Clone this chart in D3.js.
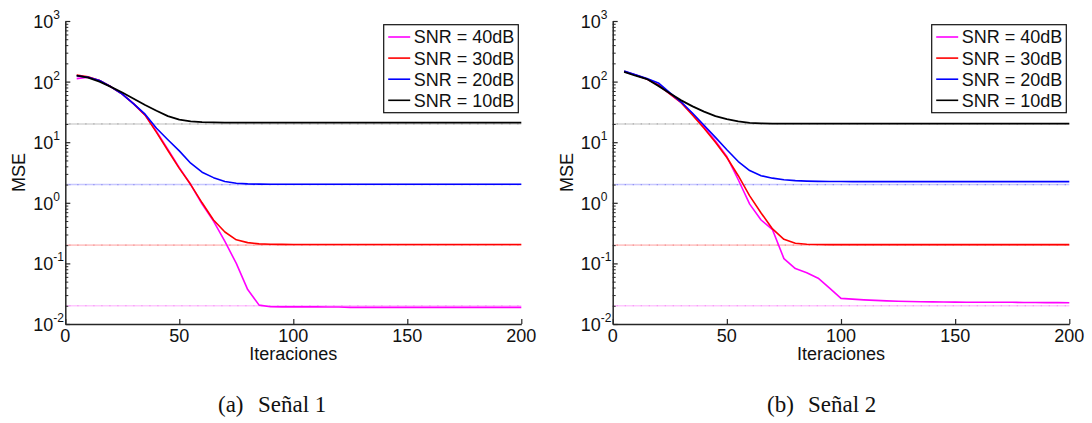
<!DOCTYPE html>
<html>
<head>
<meta charset="utf-8">
<script src="https://cdn.jsdelivr.net/npm/d3@7"></script>
<style>
  html, body { margin: 0; padding: 0; background: #fff; }
  svg { display: block; }
</style>
</head>
<body>
<svg id="chart" width="1092" height="423"></svg>
<script>
// ---------------- DATA ----------------
const iterations = [5,10,15,20,25,30,35,40,45,50,55,60,65,70,75,80,85,90,95,100,
                    105,110,115,120,125,130,135,140,145,150,155,160,165,170,175,180,185,190,195,200];

const seriesNames = ["SNR = 40dB", "SNR = 30dB", "SNR = 20dB", "SNR = 10dB"];
const referenceLevels = [0.02, 0.2, 2, 20];   // faint reference lines (per series)

const xTicks = [0, 50, 100, 150, 200];
const yTickExponents = [-2, -1, 0, 1, 2, 3];
const xLabel = "Iteraciones";
const yLabel = "MSE";
const panelLetters = ["(a)", "(b)"];
const panelTitles = ["Señal 1", "Señal 2"];

// Señal 1
const s1_snr40 = [112,118,104,82,62,43,28,15,7.6,3.8,2.0,0.95,0.5,0.23,0.1,0.037,0.0205,0.0193,0.0192,0.0192,
                  0.0192,0.0192,0.0191,0.0191,0.0188,0.0188,0.0188,0.0188,0.0188,0.0188,0.0188,0.0188,0.0188,0.0188,0.0188,0.0188,0.0188,0.0188,0.0188,0.0188];
const s1_snr30 = [128,120,104,82,62,43,28,14.5,7.3,3.7,2.0,1.0,0.52,0.33,0.245,0.22,0.21,0.207,0.206,0.205,
                  0.205,0.205,0.205,0.205,0.205,0.205,0.205,0.205,0.205,0.205,0.205,0.205,0.205,0.205,0.205,0.205,0.205,0.205,0.205,0.205];
const s1_snr20 = [125,118,104,82,62,43,29,17,11,7.2,4.5,3.2,2.6,2.25,2.1,2.05,2.03,2.02,2.02,2.02,
                  2.02,2.02,2.02,2.02,2.02,2.02,2.02,2.02,2.02,2.02,2.02,2.02,2.02,2.02,2.02,2.02,2.02,2.02,2.02,2.02];
const s1_snr10 = [125,116,100,82,66,52,41,33,27,23.5,22,21.4,21.2,21,21,21,21,21,21,21,
                  21,21,21,21,21,21,21,21,21,21,21,21,21,21,21,21,21,21,21,21];

// Señal 2
const s2_snr40 = [145,128,110,88,63,45,29,18,10.5,5.8,2.4,0.95,0.52,0.36,0.12,0.082,0.07,0.057,0.039,0.0265,
                  0.0257,0.025,0.0245,0.0241,0.0237,0.0235,0.0233,0.0232,0.0231,0.023,0.0229,0.0229,0.0228,0.0228,0.0228,0.0227,0.0226,0.0225,0.0225,0.0224];
const s2_snr30 = [148,128,110,88,63,45,28,17,10,5.6,2.8,1.3,0.68,0.37,0.25,0.215,0.207,0.205,0.204,0.204,
                  0.204,0.204,0.204,0.204,0.204,0.204,0.204,0.204,0.204,0.204,0.204,0.204,0.204,0.204,0.204,0.204,0.204,0.204,0.204,0.204];
const s2_snr20 = [150,130,112,95,66,46,30,19,12,7.5,4.8,3.4,2.8,2.55,2.4,2.32,2.28,2.26,2.25,2.24,
                  2.24,2.24,2.24,2.24,2.24,2.24,2.24,2.24,2.24,2.24,2.24,2.24,2.24,2.24,2.24,2.24,2.24,2.24,2.24,2.24];
const s2_snr10 = [145,125,110,85,64,49,39,32,27,24,22,20.9,20.5,20.3,20.2,20.2,20.2,20.2,20.2,20.2,
                  20.2,20.2,20.2,20.2,20.2,20.2,20.2,20.2,20.2,20.2,20.2,20.2,20.2,20.2,20.2,20.2,20.2,20.2,20.2,20.2];

const panelsData = [
  [s1_snr40, s1_snr30, s1_snr20, s1_snr10],
  [s2_snr40, s2_snr30, s2_snr20, s2_snr10]
];

// ---------------- STYLE / LAYOUT ----------------
const colors = ["#ff00ff", "#ff0000", "#0000ff", "#000000"];
const refColors = ["#ffc8ff", "#ffc8c8", "#c8c8ff", "#d4d4d4"];
const refDotColors = ["#f090f0", "#f09090", "#9090f0", "#a8a8a8"];
const axisColor = "#262626";
const sansFont = "'Liberation Sans', Arial, sans-serif";
const serifFont = "'Liberation Serif', 'Times New Roman', serif";

const panels = [
  { left: 65.3, right: 521.3, captionLetterX: 218, captionTitleX: 258 },
  { left: 612.7, right: 1069.3, captionLetterX: 767, captionTitleX: 808 }
];
const plotTop = 21, plotBottom = 324;

const svg = d3.select("#chart");

panels.forEach((p, pi) => {
  const x = d3.scaleLinear().domain([0, 200]).range([p.left, p.right]);
  const y = d3.scaleLog().domain([0.01, 1000]).range([plotBottom, plotTop]);
  const g = svg.append("g");

  // reference lines (light line with fine darker dots)
  referenceLevels.forEach((lv, i) => {
    g.append("line")
      .attr("x1", x(0)).attr("x2", x(200))
      .attr("y1", y(lv)).attr("y2", y(lv))
      .attr("stroke", refColors[i])
      .attr("stroke-width", 1.6);
    g.append("line")
      .attr("x1", x(0) + 4).attr("x2", x(200))
      .attr("y1", y(lv)).attr("y2", y(lv))
      .attr("stroke", refDotColors[i])
      .attr("stroke-width", 1.2)
      .attr("stroke-dasharray", "1.2,6.8");
  });

  // curves
  const line = d3.line().x((d, i) => x(iterations[i])).y(d => y(d));
  panelsData[pi].forEach((vals, si) => {
    g.append("path")
      .datum(vals)
      .attr("d", line)
      .attr("fill", "none")
      .attr("stroke", colors[si])
      .attr("stroke-width", si === 3 ? 1.8 : 1.6)
      .attr("stroke-linejoin", "round");
  });

  // x axis
  const xAxis = d3.axisBottom(x).tickValues(xTicks).tickSizeInner(-5).tickSizeOuter(0).tickFormat("");
  const gx = g.append("g").attr("transform", `translate(0,${plotBottom})`).call(xAxis);
  gx.select(".domain").attr("stroke", axisColor).attr("stroke-width", 1.5);
  gx.selectAll(".tick line").attr("stroke", axisColor).attr("stroke-width", 1.2);
  xTicks.forEach(t => {
    g.append("text")
      .attr("x", x(t)).attr("y", plotBottom + 18)
      .attr("text-anchor", "middle")
      .attr("font-family", sansFont).attr("font-size", 18)
      .attr("fill", "#111")
      .text(t);
  });

  // y axis with minor ticks
  const minor = [];
  for (let e = -2; e < 3; e++) for (let k = 2; k <= 9; k++) minor.push(k * Math.pow(10, e));
  const yMinor = d3.axisLeft(y).tickValues(minor).tickSizeInner(-3).tickSizeOuter(0).tickFormat("");
  const gym = g.append("g").attr("transform", `translate(${p.left},0)`).call(yMinor);
  gym.select(".domain").remove();
  gym.selectAll(".tick line").attr("stroke", axisColor).attr("stroke-width", 1);
  const majorVals = yTickExponents.map(e => Math.pow(10, e));
  const yAxis = d3.axisLeft(y).tickValues(majorVals).tickSizeInner(-5).tickSizeOuter(0).tickFormat("");
  const gy = g.append("g").attr("transform", `translate(${p.left},0)`).call(yAxis);
  gy.select(".domain").attr("stroke", axisColor).attr("stroke-width", 1.5);
  gy.selectAll(".tick line").attr("stroke", axisColor).attr("stroke-width", 1.2);
  yTickExponents.forEach(e => {
    const ty = y(Math.pow(10, e));
    g.append("text")
      .attr("x", p.left - 12).attr("y", ty + 7)
      .attr("text-anchor", "end")
      .attr("font-family", sansFont).attr("font-size", 18)
      .attr("fill", "#111")
      .text("10");
    g.append("text")
      .attr("x", p.left - 12).attr("y", ty - 2)
      .attr("text-anchor", "start")
      .attr("font-family", sansFont).attr("font-size", 12)
      .attr("fill", "#111")
      .text(String(e));
  });

  // axis labels
  g.append("text")
    .attr("x", (p.left + p.right) / 2).attr("y", 360)
    .attr("text-anchor", "middle")
    .attr("font-family", sansFont).attr("font-size", 18)
    .attr("fill", "#111")
    .text(xLabel);
  g.append("text")
    .attr("transform", `translate(${p.left - 40},${(plotTop + plotBottom) / 2}) rotate(-90)`)
    .attr("text-anchor", "middle")
    .attr("font-family", sansFont).attr("font-size", 18)
    .attr("fill", "#111")
    .text(yLabel);

  // legend
  const lgRight = p.right - 3, lgW = 134.6, lgTop = 24.7, lgH = 88;
  const lg = g.append("g").attr("transform", `translate(${lgRight - lgW},${lgTop})`);
  lg.append("rect").attr("width", lgW).attr("height", lgH)
    .attr("fill", "#fff").attr("stroke", "#111").attr("stroke-width", 1.2);
  seriesNames.forEach((name, i) => {
    const cy = 12.3 + i * 21.1;
    lg.append("line").attr("x1", 4.5).attr("x2", 26.5).attr("y1", cy).attr("y2", cy)
      .attr("stroke", colors[i]).attr("stroke-width", 1.6);
    lg.append("text").attr("x", 30).attr("y", cy + 6.5)
      .attr("font-family", sansFont).attr("font-size", 18).attr("fill", "#111")
      .text(name);
  });

  // caption
  g.append("text").attr("x", p.captionLetterX).attr("y", 412)
    .attr("font-family", serifFont).attr("font-size", 23).attr("fill", "#111")
    .text(panelLetters[pi]);
  g.append("text").attr("x", p.captionTitleX).attr("y", 412)
    .attr("font-family", serifFont).attr("font-size", 23).attr("fill", "#111")
    .text(panelTitles[pi]);
});
</script>
</body>
</html>
